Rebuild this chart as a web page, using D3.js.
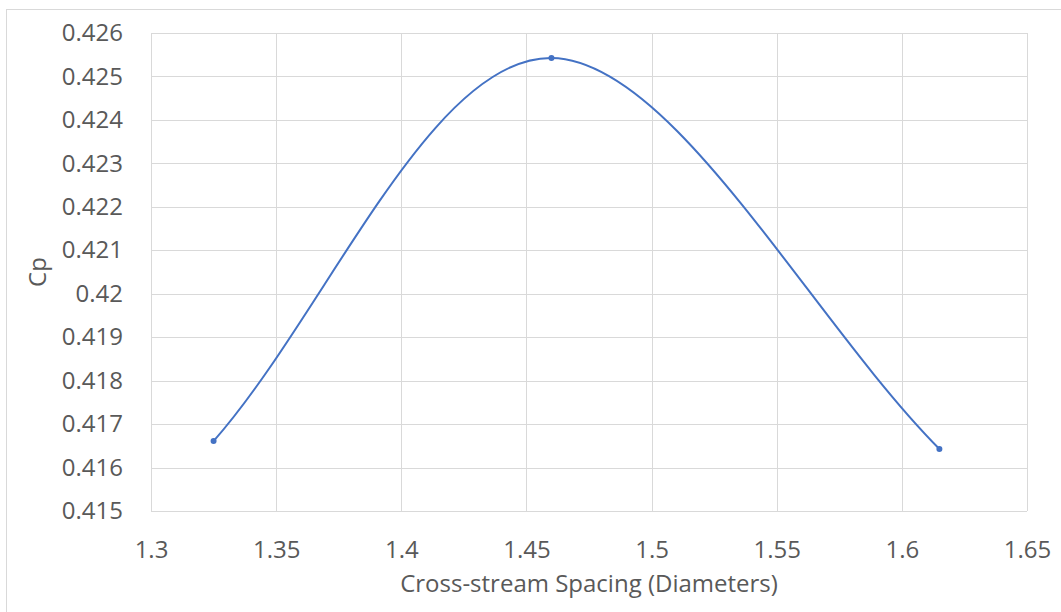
<!DOCTYPE html>
<html>
<head>
<meta charset="utf-8">
<script src="https://cdnjs.cloudflare.com/ajax/libs/d3/7.8.5/d3.min.js"></script>
<style>
  body { margin: 0; background: #fff; }
  text { font-family: "Open Sans", sans-serif; fill: #595959; }
</style>
</head>
<body>
<div id="chart-area"></div>
<script>
var spacing = [1.325, 1.46, 1.615];
var cp = [0.41661, 0.425426, 0.416427];
var xTicks = [1.3, 1.35, 1.4, 1.45, 1.5, 1.55, 1.6, 1.65];
var yTicks = [0.415, 0.416, 0.417, 0.418, 0.419, 0.42, 0.421, 0.422, 0.423, 0.424, 0.425, 0.426];

var W = 1061, H = 612;
var margin = { top: 33, right: 34, bottom: 101, left: 151 },
    width = W - margin.left - margin.right,
    height = H - margin.top - margin.bottom;

var root = d3.select("#chart-area")
    .append("svg")
    .attr("width", W)
    .attr("height", H);

// chart area border
root.append("rect")
    .attr("x", 6.5).attr("y", 9.5)
    .attr("width", W).attr("height", H)
    .attr("fill", "none")
    .attr("stroke", "#d9d9d9");

var svg = root.append("g")
    .attr("transform", "translate(" + margin.left + "," + margin.top + ")");

var x = d3.scaleLinear().domain([1.3, 1.65]).range([0, width]);
var y = d3.scaleLinear().domain([0.415, 0.426]).range([height, 0]);

// gridlines
svg.append("g")
    .attr("class", "grid")
    .selectAll("line")
    .data(yTicks)
    .enter().append("line")
    .attr("x1", 0).attr("x2", width)
    .attr("y1", function(d) { return Math.round(y(d)) + 0.5; })
    .attr("y2", function(d) { return Math.round(y(d)) + 0.5; })
    .attr("stroke", "#d9d9d9");

svg.append("g")
    .attr("class", "grid")
    .selectAll("line")
    .data(xTicks)
    .enter().append("line")
    .attr("y1", 0).attr("y2", height)
    .attr("x1", function(d) { return Math.round(x(d)) + 0.5; })
    .attr("x2", function(d) { return Math.round(x(d)) + 0.5; })
    .attr("stroke", "#d9d9d9");

// axes (labels only)
var xAxis = d3.axisBottom(x).tickValues(xTicks).tickSize(0).tickPadding(30)
    .tickFormat(function(d) { return String(+d.toFixed(2)); });
var yAxis = d3.axisLeft(y).tickValues(yTicks).tickSize(0).tickPadding(28)
    .tickFormat(function(d) { return String(+d.toFixed(3)); });

var gx = svg.append("g")
    .attr("transform", "translate(0," + height + ")")
    .call(xAxis);
var gy = svg.append("g").call(yAxis);
[gx, gy].forEach(function(g) {
    g.select(".domain").remove();
    g.selectAll("text").style("font-size", "24px").attr("fill", "#595959");
});

// smoothed line, excel style: bezier with handles (P[i+1]-P[i-1])/6,
// end points get a mirrored phantom neighbour
var pts = spacing.map(function(s, i) { return [x(s), y(cp[i])]; });

function smoothPath(p) {
    var n = p.length;
    var ext = [[2 * p[0][0] - p[1][0], 2 * p[0][1] - p[1][1]]]
        .concat(p)
        .concat([[2 * p[n - 1][0] - p[n - 2][0], 2 * p[n - 1][1] - p[n - 2][1]]]);
    var path = d3.path();
    path.moveTo(p[0][0], p[0][1]);
    for (var i = 1; i < ext.length - 2; i++) {
        var p0 = ext[i - 1], p1 = ext[i], p2 = ext[i + 1], p3 = ext[i + 2];
        path.bezierCurveTo(
            p1[0] + (p2[0] - p0[0]) / 6, p1[1] + (p2[1] - p0[1]) / 6,
            p2[0] - (p3[0] - p1[0]) / 6, p2[1] - (p3[1] - p1[1]) / 6,
            p2[0], p2[1]);
    }
    return path.toString();
}

svg.append("path")
    .attr("d", smoothPath(pts))
    .attr("fill", "none")
    .attr("stroke", "#4472c4")
    .attr("stroke-width", 2);

svg.selectAll("circle")
    .data(pts)
    .enter().append("circle")
    .attr("cx", function(d) { return d[0]; })
    .attr("cy", function(d) { return d[1]; })
    .attr("r", 3)
    .attr("fill", "#4472c4");

// axis titles
root.append("text")
    .attr("x", margin.left + width / 2)
    .attr("y", 592)
    .attr("text-anchor", "middle")
    .style("font-size", "24px")
    .text("Cross-stream Spacing (Diameters)");

root.append("text")
    .attr("transform", "translate(46," + (margin.top + height / 2) + ") rotate(-90)")
    .attr("text-anchor", "middle")
    .style("font-size", "24px")
    .text("Cp");
</script>
</body>
</html>
